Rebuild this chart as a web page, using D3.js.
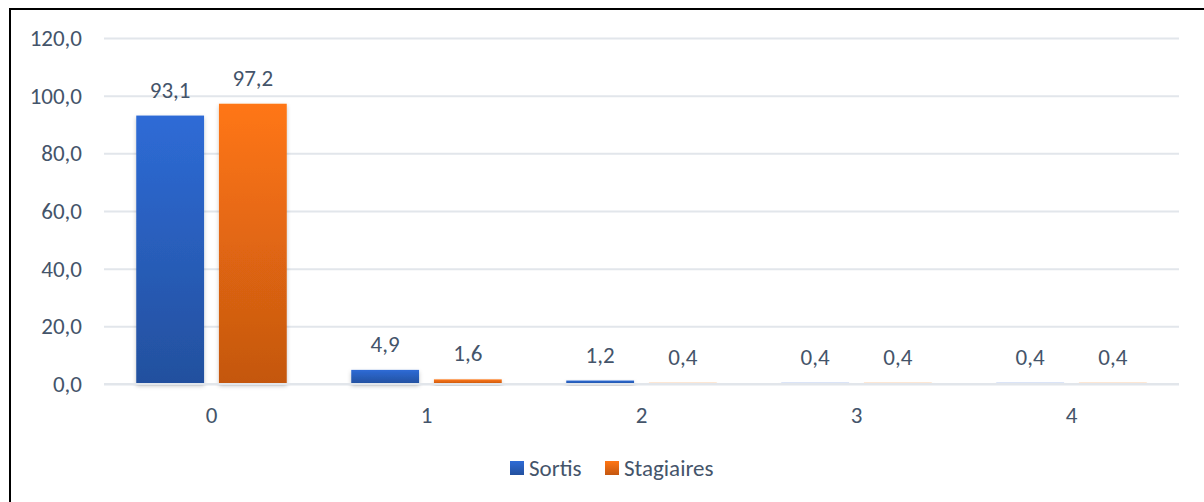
<!DOCTYPE html>
<html><head><meta charset="utf-8">
<script src="https://cdn.jsdelivr.net/npm/d3@7"></script>
<style>body{margin:0;background:#fff}svg{display:block}</style>
</head><body>
<svg id="c" width="1204" height="502"></svg>
<script>
const categories = ["0","1","2","3","4"];
const seriesNames = ["Sortis","Stagiaires"];
const sortis = [93.1, 4.9, 1.2, 0.4, 0.4];
const stagiaires = [97.2, 1.6, 0.4, 0.4, 0.4];
const yTicks = [0,20,40,60,80,100,120];

const svg = d3.select("#c");
const W = 1204, H = 502;
const m = {left:104, right:25, top:38, bottom:118};
const font = "Carlito, Calibri, Lato, sans-serif";
const txt = "#44546a";
const fs = 23;

svg.append("rect").attr("x",10).attr("y",9).attr("width",W).attr("height",H)
  .attr("fill","#fff").attr("stroke","#000").attr("stroke-width",2);

const defs = svg.append("defs");
const grads = [["gBlue","#2e6bd6","#23509e"],["gOrange","#ff7614","#c45710"]];
grads.forEach(([id,a,b])=>{
  const g = defs.append("linearGradient").attr("id",id).attr("x1",0).attr("y1",0).attr("x2",0).attr("y2",1);
  g.append("stop").attr("offset","0%").attr("stop-color",a);
  g.append("stop").attr("offset","100%").attr("stop-color",b);
});
const f = defs.append("filter").attr("id","sh").attr("x","-20%").attr("y","-20%").attr("width","140%").attr("height","160%");
f.append("feDropShadow").attr("dx",0).attr("dy",2).attr("stdDeviation",2).attr("flood-color","#000").attr("flood-opacity",0.22);

const x = d3.scaleBand().domain(categories).range([m.left, W-m.right]).paddingInner(0.3).paddingOuter(0.15);
const x1 = d3.scaleBand().domain(seriesNames).range([0, x.bandwidth()]).paddingInner(0.18);
const y = d3.scaleLinear().domain([0,120]).range([H-m.bottom, m.top]);

const fmt = d=>d3.format(".1f")(d).replace(".",",");

// grid
const yAxis = d3.axisLeft(y).tickValues(yTicks).tickSize(-(W-m.right-m.left)).tickFormat(fmt);
const ga = svg.append("g").attr("transform",`translate(${m.left},0)`).call(yAxis);
ga.select(".domain").remove();
ga.selectAll(".tick line").attr("stroke","#e2e6eb").attr("stroke-width",2);
ga.selectAll(".tick text").attr("x",-22).attr("fill",txt).attr("font-family",font).attr("font-size",fs);

const data = seriesNames.map((s,i)=>({name:s, values:(i===0?sortis:stagiaires), fill:`url(#${grads[i][0]})`}));

const gs = svg.append("g");
data.forEach(s=>{
  gs.selectAll(null).data(s.values).enter().append("rect")
    .attr("x",(d,i)=>x(categories[i])+x1(s.name))
    .attr("y",d=>y(d))
    .attr("width",x1.bandwidth())
    .attr("height",d=>y(0)-y(d))
    .attr("fill",s.fill)
    .attr("filter","url(#sh)");
  gs.selectAll(null).data(s.values).enter().append("text")
    .attr("x",(d,i)=>x(categories[i])+x1(s.name)+x1.bandwidth()/2)
    .attr("y",d=>y(d)-18)
    .attr("text-anchor","middle").attr("fill",txt).attr("font-family",font).attr("font-size",fs)
    .text(fmt);
});

// baseline over bars
svg.append("line").attr("x1",m.left).attr("x2",W-m.right).attr("y1",y(0)).attr("y2",y(0))
  .attr("stroke","#e2e6eb").attr("stroke-width",2);

// x axis labels
const xa = d3.axisBottom(x).tickSize(0).tickPadding(23);
const gx = svg.append("g").attr("transform",`translate(0,${y(0)})`).call(xa);
gx.select(".domain").remove();
gx.selectAll(".tick text").attr("fill",txt).attr("font-family",font).attr("font-size",fs);

// legend
const lg = svg.append("g");
const lx = [510, 605];
data.forEach((s,i)=>{
  lg.append("rect").attr("x",lx[i]).attr("y",461).attr("width",14).attr("height",14).attr("fill",s.fill);
  lg.append("text").attr("x",lx[i]+19).attr("y",476).attr("fill",txt).attr("font-family",font).attr("font-size",fs).text(s.name);
});
</script>
</body></html>
